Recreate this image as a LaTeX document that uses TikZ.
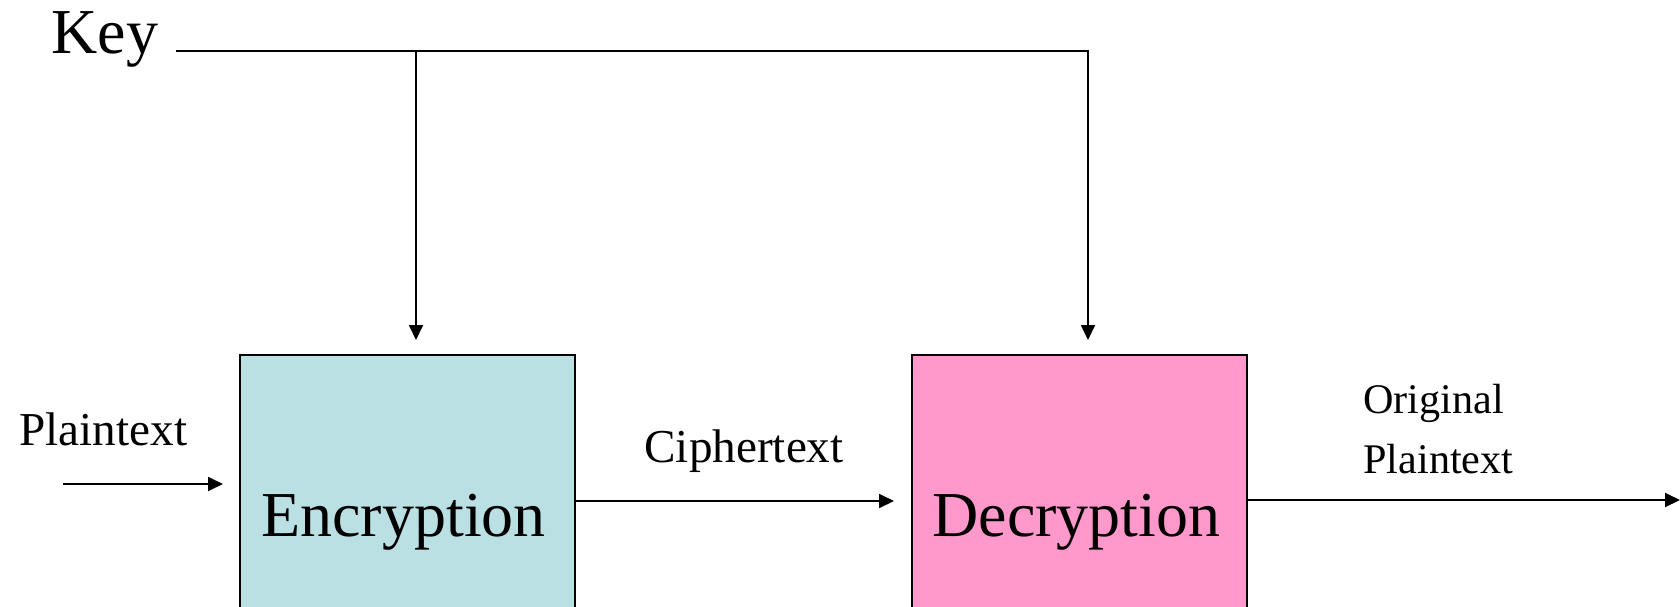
\documentclass[tikz,border=0pt]{standalone}
\usepackage{fontspec}
\setmainfont{Liberation Serif}
\usetikzlibrary{arrows.meta}
\definecolor{encfill}{HTML}{BAE0E4}
\definecolor{decfill}{HTML}{FF99CC}
\begin{document}
\begin{tikzpicture}[x=0.5pt,y=-0.5pt,
  blockbox/.style={draw=black, line width=1pt, minimum width=167.5pt,
    minimum height=166pt, inner sep=0pt},
  txt/.style={inner sep=0pt, anchor=base west},
  bigtxt/.style={txt, font=\fontsize{32}{38}\selectfont},
  midtxt/.style={txt, font=\fontsize{23.6}{28}\selectfont},
  smalltxt/.style={txt, font=\fontsize{21.1}{25}\selectfont},
  wire/.style={line width=0.9pt},
  arr/.style={wire, -{Triangle[length=7.5pt,width=7pt]}}
]
\useasboundingbox (0,0) rectangle (1680,606);
\clip (0,0) rectangle (1680,606);

% processing blocks
\node[blockbox, fill=encfill] (enc) at (407.5,521) {};
\node[blockbox, fill=decfill] (dec) at (1079.5,521) {};
\node[bigtxt] (enclab) at (261,536) {Encryption};
\node[bigtxt] (declab) at (932,536) {Decryption};

% key distribution
\node[bigtxt] (key) at (51,53) {Key};
\coordinate (k0) at (176,51);
\coordinate (k1) at (416,51);
\coordinate (k2) at (1088,51);
\draw[arr, shorten >=7pt] (k0) -- (k2) -- (k2 |- dec.north);
\draw[arr, shorten >=7pt] (k1) -- (k1 |- enc.north);

% data flow
\coordinate (ptin) at (63,484);
\node[midtxt] (ptlab) at (19,445) {Plaintext};
\draw[arr, shorten >=8pt] (ptin) -- (ptin -| enc.west);

\node[midtxt] (ctlab) at (644,462) {Ciphertext};
\draw[arr, shorten >=8.5pt] (enc.east |- 0,501) -- (dec.west |- 0,501);

\node[smalltxt] (origlab) at (1363,413) {Original};
\node[smalltxt] (origlab2) at (1363,473) {Plaintext};
\coordinate (out) at (1680,500);
\draw[arr] (dec.east |- out) -- (out);
\end{tikzpicture}
\end{document}
